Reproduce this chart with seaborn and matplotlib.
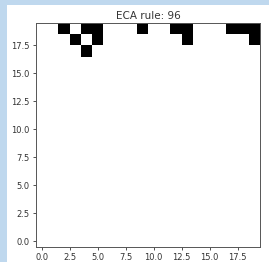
import numpy as np
import matplotlib
matplotlib.use("Agg")
import matplotlib.pyplot as plt
import seaborn as sns
from matplotlib.patches import Rectangle

# ECA rule 96 grid: rows listed from y=19 (top) downward; remaining rows are empty
rule = 96
n_cells = 20
row_19 = [0, 0, 1, 0, 1, 1, 0, 0, 0, 1, 0, 0, 1, 1, 0, 0, 0, 1, 1, 1]
row_18 = [0, 0, 0, 1, 0, 1, 0, 0, 0, 0, 0, 0, 0, 1, 0, 0, 0, 0, 0, 1]
row_17 = [0, 0, 0, 0, 1, 0, 0, 0, 0, 0, 0, 0, 0, 0, 0, 0, 0, 0, 0, 0]

grid = np.zeros((n_cells, n_cells))
grid[19] = row_19
grid[18] = row_18
grid[17] = row_17

sns.set_style("ticks")
plt.rcParams['font.family'] = ['DejaVu Sans']

fig = plt.figure(figsize=(2.69, 2.62), dpi=100)
fig.patch.set_facecolor("#bfd8ee")
fig.patches.append(Rectangle((7 / 269, 0), 1, 1 - 5 / 262, transform=fig.transFigure,
                             facecolor="white", edgecolor="none", zorder=-10))

ax = fig.add_axes([36 / 269, 15 / 262, 224 / 269, 224 / 262])
ax.imshow(grid, cmap="binary", origin="lower", vmin=0, vmax=1, interpolation="nearest")
ax.set_title(f"ECA rule: {rule}", fontsize=7.5, color="#333333", pad=3)
ax.set_xticks(np.arange(0, 20, 2.5))
ax.set_yticks(np.arange(0, 20, 2.5))
ax.xaxis.set_major_formatter(matplotlib.ticker.FormatStrFormatter("%.1f"))
ax.yaxis.set_major_formatter(matplotlib.ticker.FormatStrFormatter("%.1f"))
ax.tick_params(labelsize=6, colors="#333333", length=2.5, width=0.6, pad=2)
for s in ax.spines.values():
    s.set_visible(True)
    s.set_linewidth(0.7)
    s.set_color("#555555")

fig.savefig("out.png", dpi=100, facecolor=fig.get_facecolor())
